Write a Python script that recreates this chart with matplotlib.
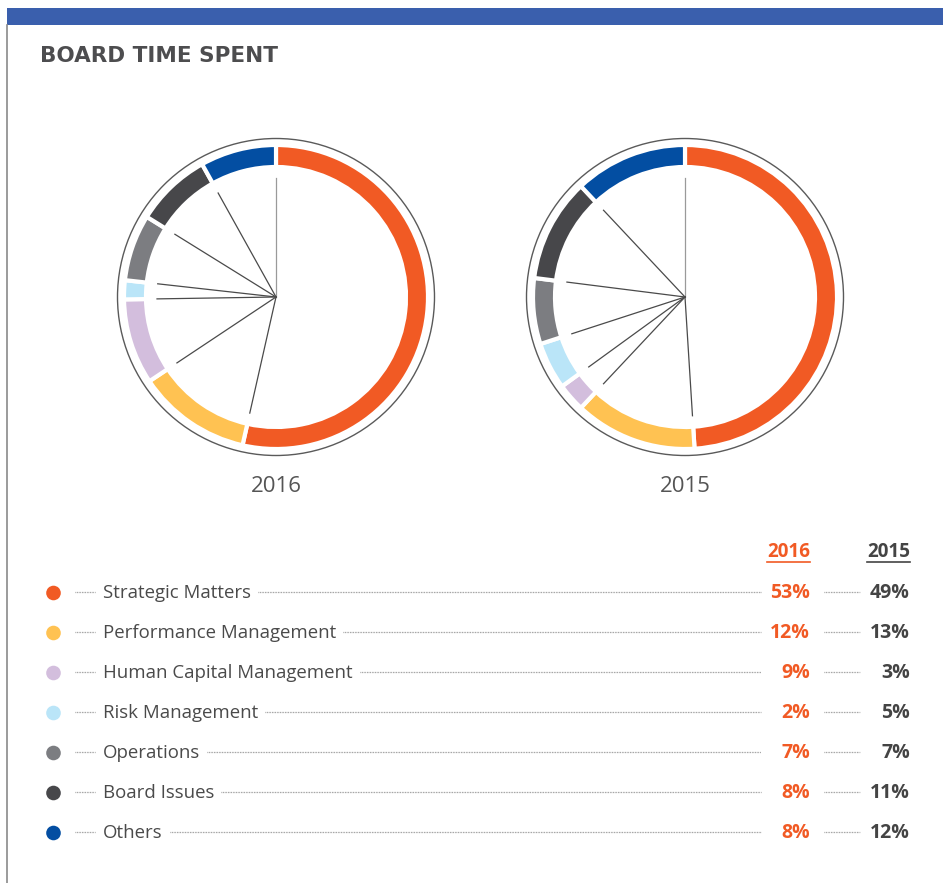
import matplotlib
matplotlib.use("Agg")
import matplotlib.pyplot as plt
from matplotlib.patches import Circle, Rectangle
import numpy as np

# ---------------- data ----------------
categories = ["Strategic Matters", "Performance Management", "Human Capital Management",
              "Risk Management", "Operations", "Board Issues", "Others"]
values_2016 = [53, 12, 9, 2, 7, 8, 8]
values_2015 = [49, 13, 3, 5, 7, 11, 12]
years = ["2016", "2015"]
colors = ["#F15A24", "#FFC252", "#D3BEDD", "#BAE5F8", "#7C7D81", "#47474A", "#034EA2"]
title = "BOARD TIME SPENT"

W, H = 943, 883
fig = plt.figure(figsize=(W / 100, H / 100), dpi=100)
fig.patch.set_facecolor("white")

bg = fig.add_axes([0, 0, 1, 1])
bg.set_xlim(0, W)
bg.set_ylim(H, 0)
bg.axis("off")

# frame decorations
bg.add_patch(Rectangle((7, 8), W - 7, 17, color="#3A5FAD", lw=0))
bg.plot([7, 7], [25, H], color="#8a8a8a", lw=1.2)

FONT = ["Open Sans", "DejaVu Sans"]
bg.text(40, 56, title, fontsize=15.5, fontweight="bold", color="#4d4d4f",
        family=["DejaVu Sans"], va="center", ha="left")


def draw_pie(cx, cy, vals, label):
    half = 170
    ax = fig.add_axes([(cx - half) / W, 1 - (cy + half) / H, 2 * half / W, 2 * half / H])
    R, width = 152, 22
    ax.pie(vals, colors=colors, startangle=90, counterclock=False, radius=R,
           wedgeprops=dict(width=width, edgecolor="white", linewidth=3))
    ax.set_xlim(-half, half)
    ax.set_ylim(-half, half)
    ax.set_aspect("auto")
    ax.axis("off")
    ax.add_patch(Circle((0, 0), 158.5, fill=False, ec="#5a5a5a", lw=1.0))
    total = float(sum(vals))
    cum = np.concatenate([[0], np.cumsum(vals)[:-1]]) / total
    for i, f in enumerate(cum):
        th = np.deg2rad(90 - 360 * f)
        ax.plot([0, 119 * np.cos(th)], [0, 119 * np.sin(th)],
                color="#9a9a9a" if i == 0 else "#4a4a4a", lw=0.9)
    bg.text(cx, 487, label, fontsize=16, color="#555555", family=FONT,
            ha="center", va="center")


draw_pie(276, 297, values_2016, years[0])
draw_pie(685, 297, values_2015, years[1])

# ---------------- legend table ----------------
right16, right15 = 810, 910
hdr_y = 552
fig.canvas.draw()
renderer = fig.canvas.get_renderer()
inv = bg.transData.inverted()

for yr, xr, col in [(years[0], right16, "#F15A24"), (years[1], right15, "#444444")]:
    t = bg.text(xr, hdr_y, yr, fontsize=13.6, fontweight="bold", color=col,
                family=FONT, ha="right", va="center")
    bb = t.get_window_extent(renderer)
    (x0, _), (x1, _) = inv.transform([[bb.x0, bb.y0], [bb.x1, bb.y1]])
    bg.plot([x0, x1], [hdr_y + 10, hdr_y + 10], color=col, lw=1.2)

dot = dict(color="#8a8a8a", lw=0.9, linestyle=(0, (0.6, 0.7)))
row_y0, dy = 592, 40
for i, cat in enumerate(categories):
    y = row_y0 + i * dy
    bg.add_patch(Circle((53.5, y + 1), 7.3, color=colors[i], lw=0))
    bg.plot([75, 95], [y, y], **dot)
    t = bg.text(103, y + 0.5, cat, fontsize=13.4, color="#4a4a4a", family=FONT,
                ha="left", va="center")
    bb = t.get_window_extent(renderer)
    xe = inv.transform([[bb.x1, bb.y0]])[0][0]
    bg.plot([xe + 7, 761], [y, y], **dot)
    bg.text(right16, y + 0.5, f"{values_2016[i]}%", fontsize=14, fontweight="bold",
            color="#F15A24", family=FONT, ha="right", va="center")
    bg.plot([824, 860], [y, y], **dot)
    bg.text(right15, y + 0.5, f"{values_2015[i]}%", fontsize=14, fontweight="bold",
            color="#444444", family=FONT, ha="right", va="center")

fig.savefig("out.png", dpi=100, facecolor="white")
